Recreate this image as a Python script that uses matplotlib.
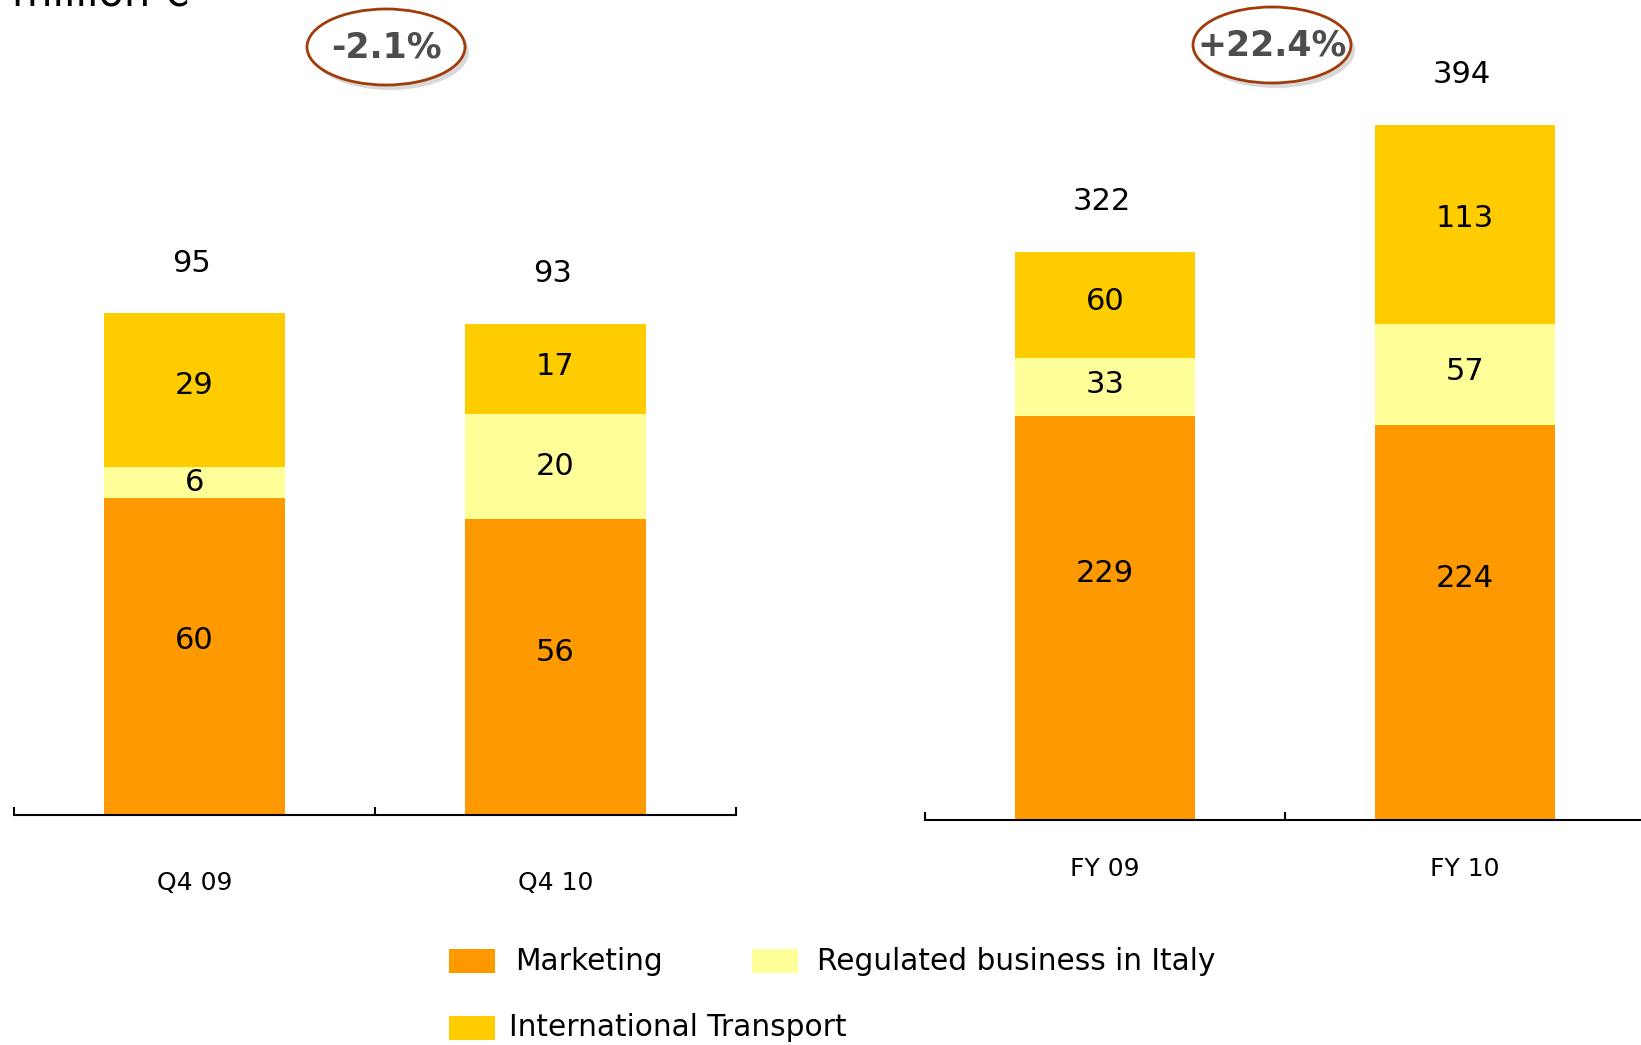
import numpy as np
import matplotlib
matplotlib.use("Agg")
import matplotlib.pyplot as plt
from matplotlib.patches import Ellipse, Rectangle

# data (million €)
quarter_cats = ["Q4 09", "Q4 10"]
year_cats = ["FY 09", "FY 10"]
series = ["Marketing", "Regulated business in Italy", "International Transport"]
marketing_q = [60, 56]
regulated_q = [6, 20]
intl_q = [29, 17]
total_q = [95, 93]
marketing_y = [229, 224]
regulated_y = [33, 57]
intl_y = [60, 113]
total_y = [322, 394]

colors = ["#FF9900", "#FFFF99", "#FFCC00"]

W, H = 1641, 1045
plt.rcParams["font.family"] = ["DejaVu Sans"]
fig = plt.figure(figsize=(W / 100, H / 100), dpi=100)


def px(x, y):
    return x / W, 1 - y / H


def panel(rect, cats, stacks, totals, ylim_top, pad, fracs):
    ax = fig.add_axes(rect)
    x = np.arange(len(cats))
    bottom = np.zeros(len(cats))
    for vals, c, f in zip(stacks, colors, fracs):
        vals = np.array(vals, dtype=float)
        ax.bar(x, vals, 0.5, bottom=bottom, color=c, linewidth=0)
        for xi, b, v in zip(x, bottom, vals):
            ax.text(xi, b + v * f, "%d" % v, ha="center", va="center", fontsize=22)
        bottom += vals
    for xi, t in zip(x, totals):
        ax.annotate("%d" % t, (xi, t), xytext=(-2, 36), textcoords="offset points",
                    ha="center", va="center", fontsize=22, annotation_clip=False)
    ax.set_xlim(-0.5, len(cats) - 0.5)
    ax.set_ylim(0, ylim_top)
    ax.set_xticks(x)
    ax.set_xticklabels(cats, fontsize=18)
    ax.set_xticks(np.arange(len(cats) + 1) - 0.5, minor=True)
    ax.tick_params(axis="x", which="major", length=0, pad=pad)
    ax.tick_params(axis="x", which="minor", direction="in", length=6, width=1.5)
    ax.set_yticks([])
    for s in ["top", "left", "right"]:
        ax.spines[s].set_visible(False)
    ax.spines["bottom"].set_linewidth(1.5)
    ax.patch.set_alpha(0)
    return ax


l, b = px(14, 815)
panel([l, b, 722 / W, 815 / H], quarter_cats, [marketing_q, regulated_q, intl_q],
      total_q, 815 / 5.28, 40, [0.55, 0.5, 0.53])
l, b = px(925, 820)
panel([l, b, 720 / W, 820 / H], year_cats, [marketing_y, regulated_y, intl_y],
      total_y, 820 / 1.765, 27, [0.61, 0.53, 0.53])

# growth bubbles
growth = [(total_q[1] - total_q[0]) / total_q[0] * 100,
          (total_y[1] - total_y[0]) / total_y[0] * 100]
centers = [(386, 47), (1272, 45)]
for g, (cx, cy) in zip(growth, centers):
    sx, sy = px(cx + 4, cy + 5)
    fig.add_artist(Ellipse((sx, sy), 158 / W, 76 / H, transform=fig.transFigure,
                           facecolor="#d9d9d9", edgecolor="none"))
    ex, ey = px(cx, cy)
    fig.add_artist(Ellipse((ex, ey), 158 / W, 76 / H, transform=fig.transFigure,
                           facecolor="white", edgecolor="#A03C0A", linewidth=2))
    fig.text(ex, ey, "%+.1f%%" % g, ha="center", va="center", fontsize=25,
             fontweight="bold", color="#4d4d4d")

# unit label (cut off at the top, as in the source slide)
tx, ty = px(12, 5)
fig.text(tx, ty, "million €", ha="left", va="baseline", fontsize=30)

# legend
legend_pos = [(449, 961, 515), (752, 961, 817), (449, 1028, 509)]
for name, c, (lx, ly, tx_) in zip(series, colors, legend_pos):
    rx, ry = px(lx, ly + 12)
    fig.add_artist(Rectangle((rx, ry), 46 / W, 24 / H, transform=fig.transFigure,
                             facecolor=c, edgecolor="none"))
    a, bb = px(tx_, ly)
    fig.text(a, bb, name, ha="left", va="center", fontsize=21.3)

plt.savefig("out.png", dpi=100)
